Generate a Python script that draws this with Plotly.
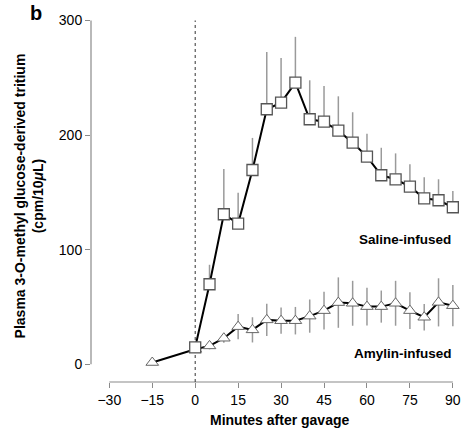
import plotly.graph_objects as go

minutes_saline = [0, 5, 10, 15, 20, 25, 30, 35, 40, 45, 50, 55, 60, 65, 70, 75, 80, 85, 90]
saline = [14.8, 69.8, 130.9, 122.7, 169.5, 222.5, 228.3, 245.7, 213.8, 211.7, 203.8,
          193.4, 181.2, 164.9, 161.4, 155.0, 144.8, 143.1, 137.0]
saline_err = [4, 17, 39.5, 27, 28, 50, 39, 40, 34, 31, 30, 26.5, 20, 24, 22.6, 19.5, 18.4, 18.3, 14.2]

minutes_amylin = [-15, 0, 5, 10, 15, 20, 25, 30, 35, 40, 45, 50, 55, 60, 65, 70, 75, 80, 85, 90]
amylin = [1.5, 13, 16, 22.7, 32.8, 30, 38.7, 38, 38, 42, 46.8, 53.8, 53.2, 50.3, 50.3,
          53.2, 46.8, 41, 54, 51.1]
amylin_err = [0, 3, 3, 4, 11, 11, 14, 11.5, 12, 14.5, 16.4, 22, 19.6, 16.4, 14, 19.6, 16, 11.6, 21, 18]

x_ticks = [-30, -15, 0, 15, 30, 45, 60, 75, 90]
y_ticks = [0, 100, 200, 300]

FONT = "Arial, Liberation Sans, sans-serif"
AXIS_GRAY = "#8a8a8a"

fig = go.Figure()

fig.add_trace(go.Scatter(
    x=minutes_amylin, y=amylin, mode="lines+markers",
    line=dict(color="black", width=2),
    marker=dict(symbol="triangle-up", size=11, color="white",
                line=dict(color="#666666", width=1)),
    error_y=dict(type="data", array=amylin_err, symmetric=True,
                 color="#9a9a9a", thickness=1.5, width=0),
    cliponaxis=False, showlegend=False,
))

fig.add_trace(go.Scatter(
    x=minutes_saline, y=saline, mode="lines+markers",
    line=dict(color="black", width=2),
    marker=dict(symbol="square", size=11, color="white",
                line=dict(color="#555555", width=1.3)),
    error_y=dict(type="data", array=saline_err, arrayminus=[0] * len(saline_err),
                 symmetric=False, color="#9a9a9a", thickness=1.5, width=0),
    cliponaxis=False, showlegend=False,
))

fig.update_layout(
    width=461, height=433,
    margin=dict(l=91, r=0, t=20, b=51),
    plot_bgcolor="white", paper_bgcolor="white",
    font=dict(family=FONT, size=14, color="black"),
    xaxis=dict(range=[-36.4, 91.8], tickvals=x_ticks, ticks="outside", ticklen=5,
               tickcolor=AXIS_GRAY, tickwidth=1, showline=False, showgrid=False,
               zeroline=False, tickfont=dict(size=14), ticklabeloverflow="allow"),
    yaxis=dict(range=[-15.5, 300.4], tickvals=y_ticks, ticks="outside", ticklen=5,
               tickcolor=AXIS_GRAY, tickwidth=1, showline=False, showgrid=False,
               zeroline=False, tickfont=dict(size=14), ticklabeloverflow="allow"),
    shapes=[
        dict(type="line", xref="paper", yref="y", x0=0, x1=0, y0=0, y1=300,
             line=dict(color=AXIS_GRAY, width=1.2), layer="below"),
        dict(type="line", xref="x", yref="paper", x0=-30, x1=90, y0=0, y1=0,
             line=dict(color=AXIS_GRAY, width=1.2), layer="below"),
        dict(type="line", xref="x", yref="y", x0=0, x1=0, y0=-15.5, y1=300,
             line=dict(color="#333333", width=1, dash="dot"), layer="below"),
    ],
    annotations=[
        dict(text="<b>b</b>", xref="paper", yref="paper", x=-0.151, y=1.019,
             xanchor="center", yanchor="middle", showarrow=False,
             font=dict(size=20, family=FONT)),
        dict(text="<b>Plasma 3-O-methyl glucose-derived tritium<br>(cpm/10<i>μ</i>L)</b>",
             xref="paper", yref="y", x=-0.17, y=147, textangle=-90,
             xanchor="center", yanchor="middle", showarrow=False,
             font=dict(size=14, family=FONT)),
        dict(text="<b>Minutes after gavage</b>", xref="x", yref="paper", x=29.5, y=-0.104,
             xanchor="center", yanchor="middle", showarrow=False,
             font=dict(size=14, family=FONT)),
        dict(text="<b>Saline-infused</b>", xref="x", yref="y", x=90, y=108.5,
             xanchor="right", yanchor="middle", showarrow=False,
             font=dict(size=13.5, family=FONT)),
        dict(text="<b>Amylin-infused</b>", xref="x", yref="y", x=90.5, y=9,
             xanchor="right", yanchor="middle", showarrow=False,
             font=dict(size=13.5, family=FONT)),
    ],
)

fig.write_html("out.html")
